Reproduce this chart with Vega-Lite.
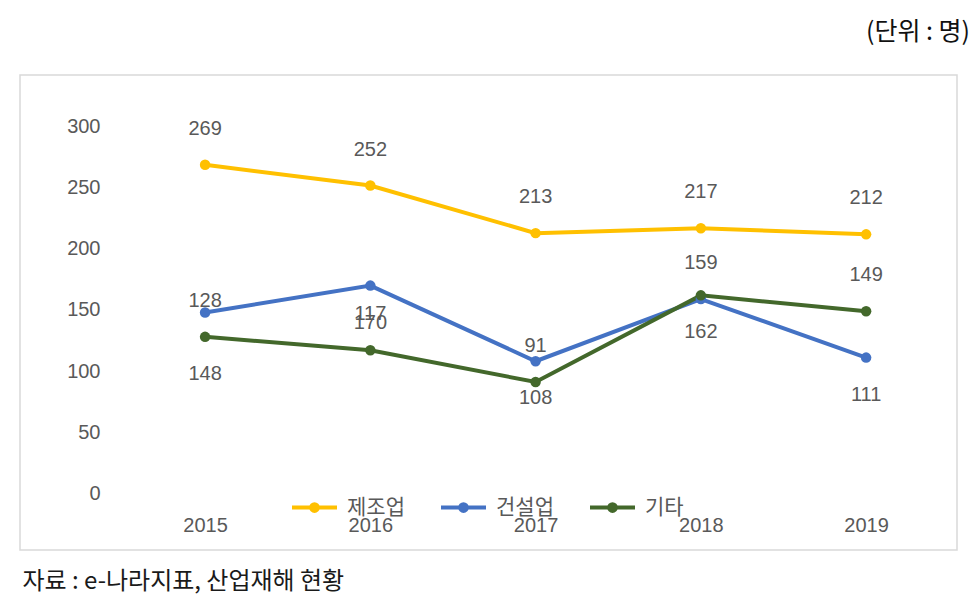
{
  "$schema": "https://vega.github.io/schema/vega-lite/v6.json",
  "width": 937,
  "height": 475,
  "autosize": {"type": "none"},
  "padding": {"left": 20, "top": 75, "right": 23, "bottom": 53},
  "background": "white",
  "config": {
    "view": {"stroke": "#d9d9d9", "strokeWidth": 1.5, "fill": "white"},
    "font": "Noto Sans CJK KR"
  },
  "title": {
    "text": "(단위 : 명)",
    "anchor": "end",
    "frame": "group",
    "dx": 13,
    "offset": 30,
    "fontSize": 25,
    "fontWeight": "normal",
    "color": "#111111",
    "font": "Noto Sans CJK KR"
  },
  "datasets": {
    "main": [
      {"year": 2015, "series": "제조업", "value": 269},
      {"year": 2016, "series": "제조업", "value": 252},
      {"year": 2017, "series": "제조업", "value": 213},
      {"year": 2018, "series": "제조업", "value": 217},
      {"year": 2019, "series": "제조업", "value": 212},
      {"year": 2015, "series": "건설업", "value": 148},
      {"year": 2016, "series": "건설업", "value": 170},
      {"year": 2017, "series": "건설업", "value": 108},
      {"year": 2018, "series": "건설업", "value": 159},
      {"year": 2019, "series": "건설업", "value": 111},
      {"year": 2015, "series": "기타", "value": 128},
      {"year": 2016, "series": "기타", "value": 117},
      {"year": 2017, "series": "기타", "value": 91},
      {"year": 2018, "series": "기타", "value": 162},
      {"year": 2019, "series": "기타", "value": 149}
    ],
    "grid": [
      {"value": 0}, {"value": 50}, {"value": 100}, {"value": 150},
      {"value": 200}, {"value": 250}, {"value": 300}
    ]
  },
  "encoding": {
    "x": {
      "field": "year",
      "type": "quantitative",
      "scale": {"domain": [2013.88, 2019.55], "nice": false, "zero": false},
      "axis": {
        "values": [2015, 2016, 2017, 2018, 2019],
        "format": "d",
        "offset": -35,
        "domain": false,
        "ticks": false,
        "grid": false,
        "labelFontSize": 20,
        "labelColor": "#595959",
        "labelFont": "Liberation Sans",
        "labelPadding": 10,
        "labelBaseline": "middle",
        "title": "자료 : e-나라지표, 산업재해 현황",
        "titleFont": "Noto Sans CJK KR",
        "titleFontSize": 24,
        "titleFontWeight": "normal",
        "titleColor": "#1a1a1a",
        "titleAnchor": "start",
        "titleAlign": "left",
        "titleBaseline": "alphabetic",
        "titleX": 2,
        "titleY": 73
      }
    },
    "y": {
      "field": "value",
      "type": "quantitative",
      "scale": {"domain": [-46.7, 342.6], "nice": false, "zero": false},
      "axis": {
        "values": [0, 50, 100, 150, 200, 250, 300],
        "offset": -85,
        "domain": false,
        "ticks": false,
        "grid": false,
        "labelFontSize": 20,
        "labelColor": "#595959",
        "labelFont": "Liberation Sans",
        "labelPadding": 5,
        "title": null
      }
    }
  },
  "layer": [
    {
      "data": {"name": "grid"},
      "mark": {"type": "rule", "color": "#d9d9d9", "strokeWidth": 1.5},
      "encoding": {
        "x": {"datum": 2014.55, "type": "quantitative"},
        "x2": {"datum": 2019.47}
      }
    },
    {
      "data": {"name": "main"},
      "mark": {"type": "line", "strokeWidth": 4, "point": {"filled": true, "size": 110}},
      "encoding": {
        "color": {
          "field": "series",
          "type": "nominal",
          "scale": {"domain": ["제조업", "건설업", "기타"], "range": ["#FFC000", "#4472C4", "#43682B"]},
          "legend": {
            "title": null,
            "orient": "none",
            "legendX": 270,
            "legendY": 408,
            "direction": "horizontal",
            "padding": 0,
            "symbolType": "M-1,0L1,0M0.15,0A0.15,0.15 0 1,1 -0.15,0A0.15,0.15 0 1,1 0.15,0",
            "symbolSize": 2025,
            "symbolStrokeWidth": 4,
            "labelFontSize": 21,
            "labelColor": "#595959",
            "labelFont": "Noto Sans CJK KR",
            "labelOffset": 8,
            "columnPadding": 28
          }
        }
      }
    },
    {
      "data": {"name": "main"},
      "transform": [{"filter": "datum.series == '제조업' || (datum.series == '기타' && datum.year != 2018) || (datum.series == '건설업' && datum.year == 2018)"}],
      "mark": {"type": "text", "fontSize": 20, "font": "Liberation Sans", "color": "#595959", "baseline": "middle", "dy": -36},
      "encoding": {"text": {"field": "value", "type": "quantitative"}}
    },
    {
      "data": {"name": "main"},
      "transform": [{"filter": "(datum.series == '건설업' && datum.year != 2018 && datum.year != 2015) || (datum.series == '기타' && datum.year == 2018)"}],
      "mark": {"type": "text", "fontSize": 20, "font": "Liberation Sans", "color": "#595959", "baseline": "middle", "dy": 37},
      "encoding": {"text": {"field": "value", "type": "quantitative"}}
    },
    {
      "data": {"name": "main"},
      "transform": [{"filter": "datum.series == '건설업' && datum.year == 2015"}],
      "mark": {"type": "text", "fontSize": 20, "font": "Liberation Sans", "color": "#595959", "baseline": "middle", "dy": 62},
      "encoding": {"text": {"field": "value", "type": "quantitative"}}
    }
  ]
}
